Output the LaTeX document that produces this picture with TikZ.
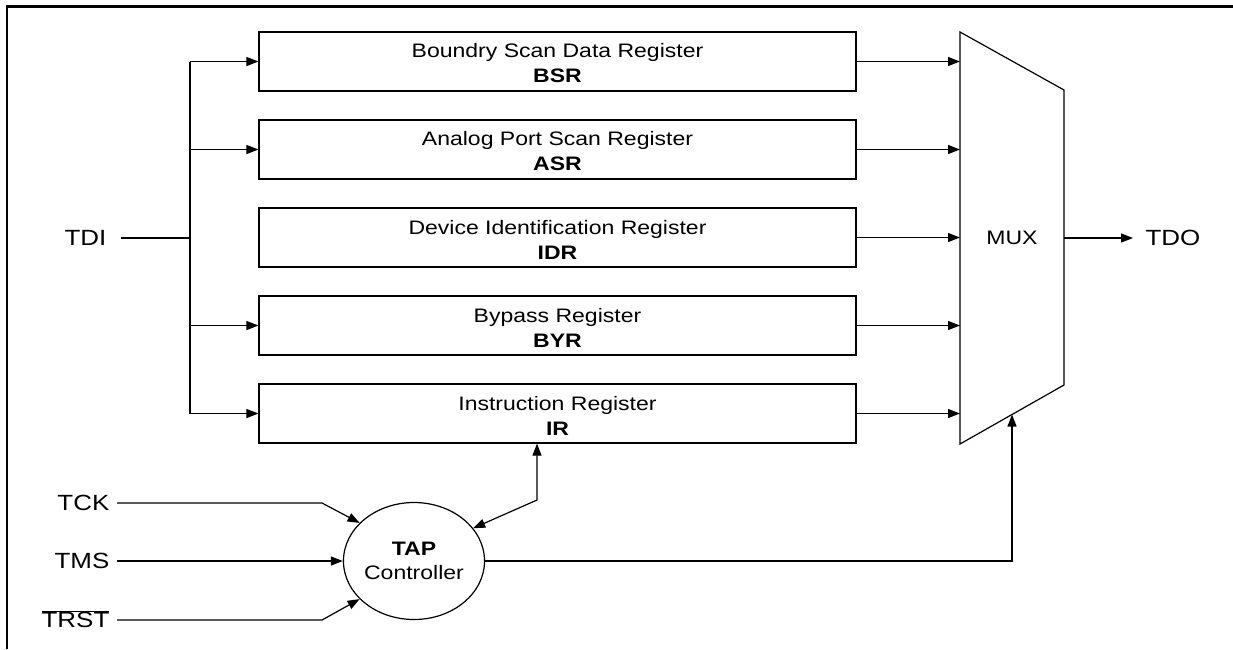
\documentclass[tikz,border=0pt]{standalone}
\usepackage{fontspec}
\setmainfont[FakeStretch=1.18]{Liberation Sans}
\usetikzlibrary{arrows.meta,shapes.geometric}
\begin{document}
\begin{tikzpicture}[x=1pt,y=-1pt,line width=1.2pt,
  >={Triangle[length=12pt,width=9pt]},
  reg/.style={draw,rectangle,minimum width=597pt,minimum height=59pt,inner sep=0pt},
  regtext/.style={align=center,font=\fontsize{19.5}{25}\selectfont,inner sep=0pt},
  pin/.style={font=\fontsize{22}{26}\selectfont,inner sep=0pt,text height=15.75pt,text depth=0pt},
  frame/.style={line width=2.5pt}]
\useasboundingbox (0,0) rectangle (1233,649);
\draw[frame] (7,649) -- (7,6.5) -- (1233,6.5);

% registers
\node[reg] (bsr) at (557.5,61.5) {};
\node[reg] (asr) at (557.5,149.5) {};
\node[reg] (idr) at (557.5,237.5) {};
\node[reg] (byr) at (557.5,325.5) {};
\node[reg] (ir)  at (557.5,413.5) {};
\node[regtext] at ([yshift=-2pt]bsr.center) {Boundry Scan Data Register\\\textbf{BSR}};
\node[regtext] at ([yshift=-2pt]asr.center) {Analog Port Scan Register\\\textbf{ASR}};
\node[regtext] at ([yshift=-2pt]idr.center) {Device Identification Register\\\textbf{IDR}};
\node[regtext] at ([yshift=-2pt]byr.center) {Bypass Register\\\textbf{BYR}};
\node[regtext] at ([yshift=-2pt]ir.center) {Instruction Register\\\textbf{IR}};

% MUX
\coordinate (m1) at (960,32);
\coordinate (m2) at (1064,90);
\coordinate (m3) at (1064,385);
\coordinate (m4) at (960,444);
\draw (m1) -- (m2) -- (m3) -- (m4) -- cycle;
\node[font=\fontsize{19.5}{24}\selectfont,inner sep=0pt] (mux) at (1012,238) {MUX};
\coordinate (msel) at (1012,414.5);

% pins
\node[pin,anchor=east] (tdi) at (107,238) {TDI};
\node[pin,anchor=west] (tdo) at (1145,238) {TDO};
\node[pin,anchor=east] (tck) at (110,503) {TCK};
\node[pin,anchor=east] (tms) at (110,561) {TMS};
\node[pin,anchor=east] (trst) at (110,620) {$\overline{\hbox{TRST}}$};

% TAP controller
\node[draw,ellipse,minimum width=140pt,minimum height=117pt,inner sep=0pt,align=center,
  font=\fontsize{19.5}{24}\selectfont] (tap) at (414,561) {\textbf{TAP}\\Controller};

% TDI bus
\coordinate (bus) at (190,238);
\coordinate (bustop) at (190,61.5);
\coordinate (busbot) at (190,413.5);
\draw ([xshift=14pt]tdi.east) -- (bus);
\draw (bustop) -- (busbot);
\foreach \r in {bsr,asr,byr,ir}{
  \draw[->] (bus |- \r.west) -- (\r.west);
}
% register outputs to MUX
\foreach \r in {bsr,asr,idr,byr,ir}{
  \draw[->] (\r.east) -- (\r.east -| m1);
}
% MUX output
\draw[->] (mux -| m2) -- ([xshift=-12pt]tdo.west);
% TAP to MUX select
\draw[->] (tap.east) -| (msel);
% IR <-> TAP
\coordinate (irbend) at (537,500);
\draw[<->] (tap.29) -- (irbend) -- (irbend |- ir.south);
% TAP inputs
\coordinate (tckbend) at (322,503);
\coordinate (trstbend) at (322,620);
\draw[->] ([xshift=7pt]tck.east) -- (tckbend) -- (tap.145);
\draw[->] ([xshift=7pt]tms.east) -- (tap.west);
\draw[->] ([xshift=7pt]trst.east) -- (trstbend) -- (tap.215);
\end{tikzpicture}
\end{document}
